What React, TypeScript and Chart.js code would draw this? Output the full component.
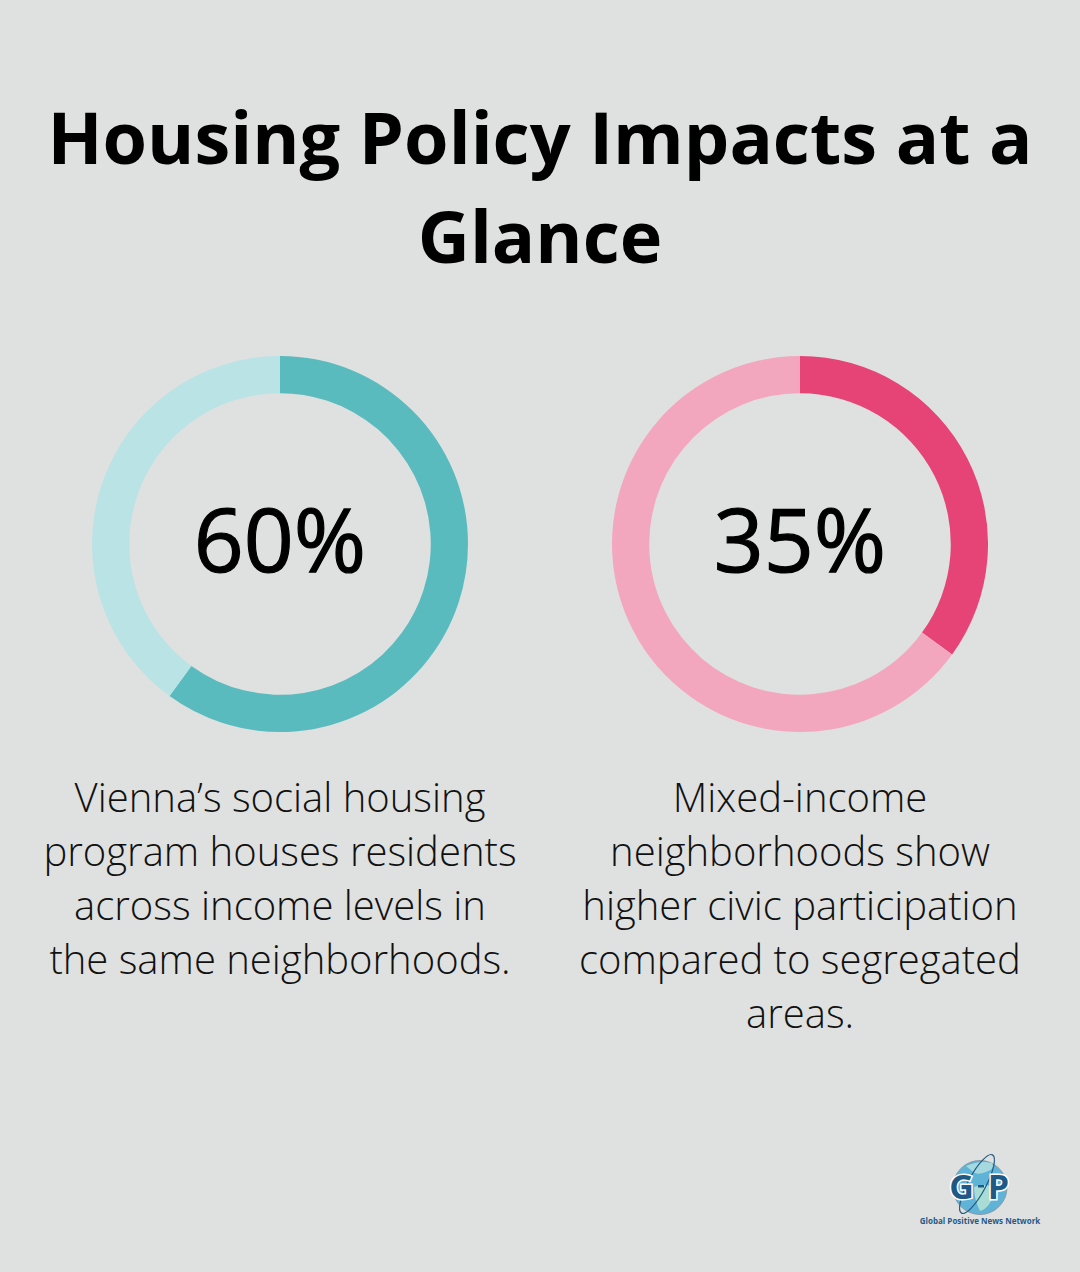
import React, { useEffect, useRef } from "react";
import { Chart, registerables } from "chart.js";

Chart.register(...registerables);

const TITLE_LINES = ["Housing Policy Impacts at a", "Glance"];
const VALUES = [60, 35];
const LABELS = ["60%", "35%"];
const MAIN_COLORS = ["#5abbbf", "#e64377"];
const TRACK_COLORS = ["#b9e3e5", "#f3a7bf"];
const CAPTIONS = [
  ["Vienna’s social housing", "program houses residents", "across income levels in", "the same neighborhoods."],
  ["Mixed-income", "neighborhoods show", "higher civic participation", "compared to segregated", "areas."],
];
const FONT = '"Open Sans", "Noto Sans", sans-serif';
const BG = "#dfe1e0";

function Donut({ idx }: { idx: number }) {
  const ref = useRef<HTMLCanvasElement>(null);
  useEffect(() => {
    const chart = new Chart(ref.current!, {
      type: "doughnut",
      data: {
        labels: ["Share", "Rest"],
        datasets: [{
          data: [VALUES[idx], 100 - VALUES[idx]],
          backgroundColor: [MAIN_COLORS[idx], TRACK_COLORS[idx]],
          borderWidth: 0,
        }],
      },
      options: {
        animation: false,
        responsive: false,
        cutout: "80.2%",
        layout: { padding: 0 },
        plugins: { legend: { display: false }, tooltip: { enabled: false } },
      },
    });
    return () => chart.destroy();
  }, [idx]);
  const cx = idx === 0 ? 280 : 800;
  return (
    <>
      <canvas ref={ref} width={376} height={376}
        style={{ position: "absolute", left: cx - 188, top: 356, width: 376, height: 376 }} />
      <div style={{ position: "absolute", left: cx - 150, width: 300, top: 478, textAlign: "center", fontSize: 87.5, lineHeight: "120px", fontWeight: 400, color: "#000", WebkitTextStroke: "1.2px #000" }}>
        {LABELS[idx]}
      </div>
      <div style={{ position: "absolute", left: cx - 260, width: 520, top: 770, textAlign: "center", fontSize: 40, lineHeight: "54px", fontWeight: 300, color: "#111" }}>
        {CAPTIONS[idx].map((l) => <div key={l}>{l}</div>)}
      </div>
    </>
  );
}

export default function App() {
  useEffect(() => {
    document.body.style.margin = "0";
    document.body.style.background = BG;
  }, []);
  return (
    <div style={{ position: "relative", width: 1080, height: 1272, background: BG, overflow: "hidden", fontFamily: FONT }}>
      <div style={{ position: "absolute", left: 0, width: 1080, top: 87, textAlign: "center", fontSize: 72, lineHeight: "99px", fontWeight: 700, color: "#000" }}>
        {TITLE_LINES.map((l) => <div key={l}>{l}</div>)}
      </div>
      <Donut idx={0} />
      <Donut idx={1} />
      <svg style={{ position: "absolute", left: 940, top: 1145 }} width={80} height={72} viewBox="0 0 80 72">
        <circle cx={40} cy={42.5} r={27} fill="#5fb3d6" stroke="#8a9aa6" strokeWidth={1} />
        <path d="M26 21 q14 -6 26 -3 q4 6 -6 9 q-10 4 -14 -1 z" fill="#a6d8e0" />
        <path d="M34 42 q12 -5 24 2 q2 7 -7 12 q-4 8 -11 10 q-6 -12 -6 -24 z" fill="#a9dcd4" />
        <ellipse cx={37} cy={39} rx={9} ry={33} transform="rotate(28 37 39)" fill="none" stroke="#1f5a86" strokeWidth={1.2} />
        <rect x={38} y={40} width={6} height={2.5} fill="#1f5a86" />
        <text x={21.5} y={53.5} textAnchor="middle" fontSize={34} fontWeight={700} fill="#1f5a86" stroke="#fff" strokeWidth={3} paintOrder="stroke" fontFamily="Open Sans">G</text>
        <text x={58.5} y={53.5} textAnchor="middle" fontSize={34} fontWeight={700} fill="#1f5a86" stroke="#fff" strokeWidth={3} paintOrder="stroke" fontFamily="Open Sans">P</text>
      </svg>
      <div style={{ position: "absolute", left: 900, width: 160, top: 1215, textAlign: "center", fontSize: 8, lineHeight: "11px", fontWeight: 700, color: "#1f5a86", whiteSpace: "nowrap" }}>
        Global Positive News Network
      </div>
    </div>
  );
}
